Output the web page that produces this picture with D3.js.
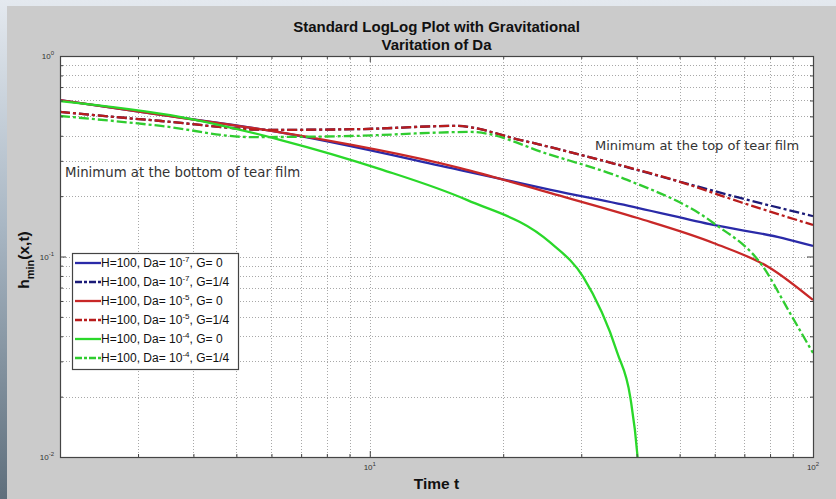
<!DOCTYPE html>
<html>
<head>
<meta charset="utf-8">
<script src="https://cdn.jsdelivr.net/npm/d3@7/dist/d3.min.js"></script>
<style>
  body { margin: 0; background: #cbcbcb; }
  svg { display: block; }
</style>
</head>
<body>
<div id="my_dataviz"></div>
<script>
// values (time t, h_min)
const tBlueSolid = [2, 3.38, 6, 16, 25.6, 40.2, 59.6, 85.5, 100];
const hBlueSolid = [0.603, 0.508, 0.423, 0.27, 0.215, 0.175, 0.1436, 0.1236, 0.1128];

const tBlueDash = [2, 3.38, 5.98, 9.55, 15.6, 21.9, 33.1, 49.4, 68.5, 100];
const hBlueDash = [0.526, 0.474, 0.428, 0.432, 0.448, 0.381, 0.303, 0.238, 0.196, 0.159];

const tRedSolid = [2, 3.38, 6, 16, 25.6, 40.2, 59.6, 80, 100];
const hRedSolid = [0.603, 0.508, 0.423, 0.276, 0.207, 0.1556, 0.1168, 0.0877, 0.0607];

const tRedDash = [2, 3.38, 5.98, 9.55, 15.6, 21.9, 33.1, 49.4, 68.5, 100];
const hRedDash = [0.526, 0.474, 0.428, 0.432, 0.448, 0.381, 0.303, 0.238, 0.187, 0.1436];

const tGreenSolid = [2, 3.75, 6.3, 10.6, 16.6, 25.6, 30.3, 36.2, 38.7, 40.2, 40.5];
const hGreenSolid = [0.596, 0.496, 0.381, 0.272, 0.191, 0.1168, 0.0791, 0.033, 0.0199, 0.01, 0.008];

const tGreenDash = [2, 3.38, 5.4, 9.06, 16.9, 25.6, 38.1, 59.6, 77.2, 88.7, 100];
const hGreenDash = [0.502, 0.448, 0.394, 0.399, 0.418, 0.321, 0.241, 0.147, 0.0887, 0.0523, 0.033];

const daExponents = ["-7", "-7", "-5", "-5", "-4", "-4"];
const gLabels = ["G= 0", "G=1/4", "G= 0", "G=1/4", "G= 0", "G=1/4"];

const xMajorTicks = [10, 100];
const xMinorTicks = [3, 4, 5, 6, 7, 8, 9, 20, 30, 40, 50, 60, 70, 80, 90];
const yMajorTicks = [0.01, 0.1, 1];
const yMinorTicks = [0.02, 0.03, 0.04, 0.05, 0.06, 0.07, 0.08, 0.09, 0.2, 0.3, 0.4, 0.5, 0.6, 0.7, 0.8, 0.9];

const titleLines = ["Standard LogLog Plot with Gravitational", "Varitation of Da"];

const width = 836,
  height = 499;
const plot = { left: 60, right: 813, top: 56, bottom: 457 };

const series = [
  { t: tBlueSolid, h: hBlueSolid, color: "#2a2aa8", dash: null },
  { t: tBlueDash, h: hBlueDash, color: "#1b1b78", dash: "10,3,3,3" },
  { t: tRedSolid, h: hRedSolid, color: "#c82828", dash: null },
  { t: tRedDash, h: hRedDash, color: "#b81c1c", dash: "10,3,3,3" },
  { t: tGreenSolid, h: hGreenSolid, color: "#2ad82a", dash: null },
  { t: tGreenDash, h: hGreenDash, color: "#30cc30", dash: "10,3,3,3" }
];

const svg = d3
  .select("#my_dataviz")
  .append("svg")
  .attr("width", width)
  .attr("height", height);

// sky photo peeking out behind the figure window
const grad = svg.append("defs").append("linearGradient")
  .attr("id", "sky").attr("x1", 0).attr("y1", 0).attr("x2", 0).attr("y2", 1);
grad.append("stop").attr("offset", "0%").attr("stop-color", "#e4e9ef");
grad.append("stop").attr("offset", "45%").attr("stop-color", "#a9b7c4");
grad.append("stop").attr("offset", "100%").attr("stop-color", "#5f6f7c");
svg.append("rect").attr("width", width).attr("height", height).attr("fill", "url(#sky)");

// grey figure panel
svg.append("rect")
  .attr("x", 7).attr("y", 6)
  .attr("width", width - 7).attr("height", height - 6)
  .attr("fill", "#cbcbcb");

const x = d3.scaleLog().domain([2, 100]).range([plot.left, plot.right]);
const y = d3.scaleLog().domain([0.01, 1]).range([plot.bottom, plot.top]);

svg.append("defs").append("clipPath").attr("id", "clip")
  .append("rect")
  .attr("x", plot.left).attr("y", plot.top)
  .attr("width", plot.right - plot.left).attr("height", plot.bottom - plot.top);

// white axes background
svg.append("rect")
  .attr("x", plot.left).attr("y", plot.top)
  .attr("width", plot.right - plot.left).attr("height", plot.bottom - plot.top)
  .attr("fill", "white");

// dotted grid at major and minor ticks
const grid = svg.append("g")
  .attr("stroke", "#a8a8a8")
  .attr("stroke-width", 1)
  .attr("stroke-dasharray", "1,2");
grid.selectAll("line.gx")
  .data(xMinorTicks.concat([10]))
  .join("line")
  .attr("x1", (d) => Math.round(x(d)) + 0.5).attr("x2", (d) => Math.round(x(d)) + 0.5)
  .attr("y1", plot.top).attr("y2", plot.bottom);
grid.selectAll("line.gy")
  .data(yMinorTicks.concat([0.1]))
  .join("line")
  .attr("y1", (d) => Math.round(y(d)) + 0.5).attr("y2", (d) => Math.round(y(d)) + 0.5)
  .attr("x1", plot.left).attr("x2", plot.right);

// the curves
const line = d3.line()
  .x((d) => x(d[0]))
  .y((d) => y(d[1]))
  .curve(d3.curveMonotoneX);

svg.append("g")
  .attr("clip-path", "url(#clip)")
  .selectAll("path")
  .data(series)
  .join("path")
  .attr("d", (s) => line(s.t.map((t, i) => [t, s.h[i]])))
  .attr("fill", "none")
  .attr("stroke", (s) => s.color)
  .attr("stroke-width", 2.3)
  .attr("stroke-dasharray", (s) => s.dash);

// ticks on all four sides, pointing inwards
function styleAxis(g) {
  g.select(".domain").remove();
  g.selectAll(".tick line").attr("stroke", "#444");
}
svg.append("g").attr("transform", `translate(0,${plot.bottom})`)
  .call(d3.axisBottom(x).tickValues(xMinorTicks).tickSize(-3).tickFormat("")).call(styleAxis);
svg.append("g").attr("transform", `translate(0,${plot.bottom})`)
  .call(d3.axisBottom(x).tickValues(xMajorTicks).tickSize(-6).tickFormat("")).call(styleAxis);
svg.append("g").attr("transform", `translate(0,${plot.top})`)
  .call(d3.axisTop(x).tickValues(xMinorTicks).tickSize(-3).tickFormat("")).call(styleAxis);
svg.append("g").attr("transform", `translate(0,${plot.top})`)
  .call(d3.axisTop(x).tickValues(xMajorTicks).tickSize(-6).tickFormat("")).call(styleAxis);
svg.append("g").attr("transform", `translate(${plot.left},0)`)
  .call(d3.axisLeft(y).tickValues(yMinorTicks).tickSize(-3).tickFormat("")).call(styleAxis);
svg.append("g").attr("transform", `translate(${plot.left},0)`)
  .call(d3.axisLeft(y).tickValues(yMajorTicks).tickSize(-6).tickFormat("")).call(styleAxis);
svg.append("g").attr("transform", `translate(${plot.right},0)`)
  .call(d3.axisRight(y).tickValues(yMinorTicks).tickSize(-3).tickFormat("")).call(styleAxis);
svg.append("g").attr("transform", `translate(${plot.right},0)`)
  .call(d3.axisRight(y).tickValues(yMajorTicks).tickSize(-6).tickFormat("")).call(styleAxis);

// box
svg.append("rect")
  .attr("x", plot.left + 0.5).attr("y", plot.top + 0.5)
  .attr("width", plot.right - plot.left).attr("height", plot.bottom - plot.top)
  .attr("fill", "none").attr("stroke", "#444").attr("stroke-width", 1.2);

// power-of-ten tick labels
function powLabel(sel, exp) {
  sel.append("tspan").text("10");
  sel.append("tspan").attr("dy", -4).attr("font-size", 6).text(exp);
}
svg.selectAll("text.xl")
  .data([1, 2])
  .join("text")
  .attr("x", (d) => x(Math.pow(10, d)))
  .attr("y", plot.bottom + 13)
  .attr("text-anchor", "middle")
  .attr("font-family", "Liberation Sans, Arial, sans-serif")
  .attr("font-size", 8)
  .attr("fill", "#333")
  .each(function (d) { powLabel(d3.select(this), String(d)); });
svg.selectAll("text.yl")
  .data([0, -1, -2])
  .join("text")
  .attr("x", plot.left - 6)
  .attr("y", (d) => y(Math.pow(10, d)) + 3)
  .attr("text-anchor", "end")
  .attr("font-family", "Liberation Sans, Arial, sans-serif")
  .attr("font-size", 8)
  .attr("fill", "#333")
  .each(function (d) { powLabel(d3.select(this), String(d)); });

// title and axis labels
svg.selectAll("text.title")
  .data(titleLines)
  .join("text")
  .attr("x", (plot.left + plot.right) / 2)
  .attr("y", (d, i) => 32 + i * 18)
  .attr("text-anchor", "middle")
  .attr("font-family", "Liberation Sans, Arial, sans-serif")
  .attr("font-weight", "bold")
  .attr("font-size", 15)
  .attr("fill", "#111")
  .text((d) => d);

svg.append("text")
  .attr("x", (plot.left + plot.right) / 2)
  .attr("y", 489)
  .attr("text-anchor", "middle")
  .attr("font-family", "Liberation Sans, Arial, sans-serif")
  .attr("font-weight", "bold")
  .attr("font-size", 15.5)
  .attr("fill", "#111")
  .text("Time t");

const ylab = svg.append("text")
  .attr("transform", "translate(29,260) rotate(-90)")
  .attr("text-anchor", "middle")
  .attr("font-family", "Liberation Sans, Arial, sans-serif")
  .attr("font-weight", "bold")
  .attr("font-size", 15.5)
  .attr("fill", "#111");
ylab.append("tspan").text("h");
ylab.append("tspan").attr("dy", 5).attr("font-size", 11).text("min");
ylab.append("tspan").attr("dy", -5).text("(x,t)");

// annotations
svg.append("text")
  .attr("x", 65).attr("y", 177)
  .attr("font-family", "DejaVu Sans, Verdana, sans-serif")
  .attr("font-size", 13.3)
  .attr("fill", "#333")
  .text("Minimum at the bottom of tear film");
svg.append("text")
  .attr("x", 595).attr("y", 150)
  .attr("font-family", "DejaVu Sans, Verdana, sans-serif")
  .attr("font-size", 13)
  .attr("fill", "#333")
  .text("Minimum at the top of tear film");

// legend
const legend = svg.append("g").attr("transform", "translate(72,253)");
legend.append("rect")
  .attr("x", 0.5).attr("y", 0.5)
  .attr("width", 166).attr("height", 116)
  .attr("fill", "white").attr("stroke", "#444").attr("stroke-width", 1.2);
const rows = legend.selectAll("g.row")
  .data(series)
  .join("g")
  .attr("transform", (d, i) => `translate(0,${10 + i * 19})`);
rows.append("line")
  .attr("x1", 3).attr("x2", 29)
  .attr("stroke", (d) => d.color)
  .attr("stroke-width", 2.3)
  .attr("stroke-dasharray", (d) => d.dash ? "7,2,3,2" : null);
rows.append("text")
  .attr("x", 29).attr("y", 4)
  .attr("font-family", "Liberation Sans, Arial, sans-serif")
  .attr("font-size", 12)
  .attr("fill", "#111")
  .each(function (d, i) {
    const t = d3.select(this);
    t.append("tspan").text("H=100, Da= 10");
    t.append("tspan").attr("dy", -5).attr("font-size", 8).text(daExponents[i]);
    t.append("tspan").attr("dy", 5).text(", " + gLabels[i]);
  });
</script>
</body>
</html>
